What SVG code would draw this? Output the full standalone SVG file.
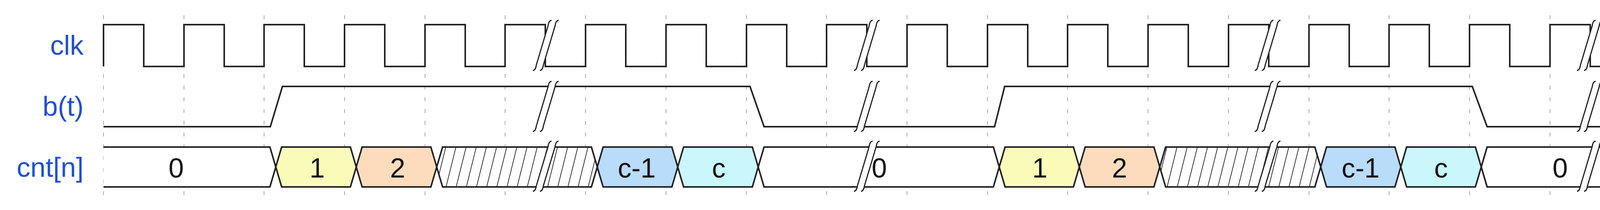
<svg xmlns="http://www.w3.org/2000/svg" width="4203" height="537" viewBox="0 0 4203 537">
<style>
.lbl{font-family:"Liberation Sans",Arial,sans-serif;font-size:70px;fill:#1f4fd8;text-anchor:end}
.val{font-family:"Liberation Sans",Arial,sans-serif;font-size:70px;fill:#111;text-anchor:middle}
.grid{stroke:#aaa;stroke-width:2;stroke-dasharray:10 20}
.wave{fill:none;stroke:#222;stroke-width:4;stroke-linejoin:miter}
.bus{stroke:#222;stroke-width:4}
.brk{fill:#fff;stroke:none}
.brkl{fill:none;stroke:#222;stroke-width:3}
</style>
<defs>
<pattern id="hatch" width="26" height="10" patternUnits="userSpaceOnUse" patternTransform="skewX(-14)">
<rect width="26" height="10" fill="#fff"/>
<line x1="13" y1="-1" x2="13" y2="11" stroke="#333" stroke-width="2"/>
</pattern>
<g id="brk">
<path class="brk" d="M -34 64 Q -27 64 -25 50 L 5 -50 Q 7 -64 14 -64 L 32 -64 Q 25 -64 23 -50 L -7 50 Q -9 64 -16 64 Z"/>
<path class="brkl" d="M -34 64 Q -27 64 -25 50 L 5 -50 Q 7 -64 14 -64"/>
<path class="brkl" d="M -16 64 Q -9 64 -7 50 L 23 -50 Q 25 -64 32 -64"/>
</g>
</defs>
<rect width="4203" height="537" fill="#fff"/>
<g id="grid">
<line class="grid" x1="265" y1="39" x2="265" y2="500"/><line class="grid" x1="471" y1="39" x2="471" y2="500"/><line class="grid" x1="676" y1="39" x2="676" y2="500"/><line class="grid" x1="882" y1="39" x2="882" y2="500"/><line class="grid" x1="1088" y1="39" x2="1088" y2="500"/><line class="grid" x1="1293" y1="39" x2="1293" y2="500"/><line class="grid" x1="1499" y1="39" x2="1499" y2="500"/><line class="grid" x1="1705" y1="39" x2="1705" y2="500"/><line class="grid" x1="1911" y1="39" x2="1911" y2="500"/><line class="grid" x1="2116" y1="39" x2="2116" y2="500"/><line class="grid" x1="2322" y1="39" x2="2322" y2="500"/><line class="grid" x1="2528" y1="39" x2="2528" y2="500"/><line class="grid" x1="2733" y1="39" x2="2733" y2="500"/><line class="grid" x1="2939" y1="39" x2="2939" y2="500"/><line class="grid" x1="3145" y1="39" x2="3145" y2="500"/><line class="grid" x1="3351" y1="39" x2="3351" y2="500"/><line class="grid" x1="3556" y1="39" x2="3556" y2="500"/><line class="grid" x1="3762" y1="39" x2="3762" y2="500"/><line class="grid" x1="3968" y1="39" x2="3968" y2="500"/><line class="grid" x1="4173" y1="39" x2="4173" y2="500"/>
</g>
<g id="labels">
<text class="lbl" x="214" y="140">clk</text>
<text class="lbl" x="214" y="296">b(t)</text>
<text class="lbl" x="214" y="452">cnt[n]</text>
</g>
<g id="clk">
<path class="wave" d="M265,170 L265,63 L368,63 L368,170 L471,170 L471,63 L574,63 L574,170 L676,170 L676,63 L779,63 L779,170 L882,170 L882,63 L985,63 L985,170 L1088,170 L1088,63 L1191,63 L1191,170 L1293,170 L1293,63 L1396,63 L1396,170 L1499,170 L1499,63 L1602,63 L1602,170 L1705,170 L1705,63 L1808,63 L1808,170 L1911,170 L1911,63 L2014,63 L2014,170 L2116,170 L2116,63 L2219,63 L2219,170 L2322,170 L2322,63 L2425,63 L2425,170 L2528,170 L2528,63 L2631,63 L2631,170 L2733,170 L2733,63 L2836,63 L2836,170 L2939,170 L2939,63 L3042,63 L3042,170 L3145,170 L3145,63 L3248,63 L3248,170 L3351,170 L3351,63 L3454,63 L3454,170 L3556,170 L3556,63 L3659,63 L3659,170 L3762,170 L3762,63 L3865,63 L3865,170 L3968,170 L3968,63 L4071,63 L4071,170 L4173,170"/>
</g>
<g id="bt">
<path class="wave" d="M265,324 L692,324 L723,221 L1920,221 L1956,324 L2546,324 L2572,221 L3769,221 L3807,324 L4173,324"/>
</g>
<g id="cnt">
<path class="bus" fill="#fff" d="M265,376 L691,376 L706,427 L691,478 L265,478"/>
<path class="bus" fill="#fbfbb9" d="M721,376 L897,376 L912,427 L897,478 L721,478 L706,427 Z"/>
<path class="bus" fill="#fcdcbc" d="M927,376 L1103,376 L1118,427 L1103,478 L927,478 L912,427 Z"/>
<path class="bus" fill="url(#hatch)" d="M1133,376 L1514,376 L1529,427 L1514,478 L1133,478 L1118,427 Z"/>
<path class="bus" fill="#b9dcfb" d="M1544,376 L1720,376 L1735,427 L1720,478 L1544,478 L1529,427 Z"/>
<path class="bus" fill="#c9f7fb" d="M1750,376 L1926,376 L1941,427 L1926,478 L1750,478 L1735,427 Z"/>
<path class="bus" fill="#fff" d="M1956,376 L2543,376 L2558,427 L2543,478 L1956,478 L1941,427 Z"/>
<path class="bus" fill="#fbfbb9" d="M2573,376 L2748,376 L2763,427 L2748,478 L2573,478 L2558,427 Z"/>
<path class="bus" fill="#fcdcbc" d="M2778,376 L2954,376 L2969,427 L2954,478 L2778,478 L2763,427 Z"/>
<path class="bus" fill="url(#hatch)" d="M2984,376 L3366,376 L3381,427 L3366,478 L2984,478 L2969,427 Z"/>
<path class="bus" fill="#b9dcfb" d="M3396,376 L3571,376 L3586,427 L3571,478 L3396,478 L3381,427 Z"/>
<path class="bus" fill="#c9f7fb" d="M3601,376 L3777,376 L3792,427 L3777,478 L3601,478 L3586,427 Z"/>
<path class="bus" fill="#fff" d="M4173,376 L3807,376 L3792,427 L3807,478 L4173,478"/>
<text class="val" x="451" y="454">0</text>
<text class="val" x="812" y="454">1</text>
<text class="val" x="1018" y="454">2</text>
<text class="val" x="1630" y="454">c-1</text>
<text class="val" x="1840" y="454">c</text>
<text class="val" x="2251" y="454">0</text>
<text class="val" x="2662" y="454">1</text>
<text class="val" x="2866" y="454">2</text>
<text class="val" x="3483" y="454">c-1</text>
<text class="val" x="3689" y="454">c</text>
<text class="val" x="3994" y="454">0</text>
</g>
<g id="breaks">
<use href="#brk" x="1398" y="116"/><use href="#brk" x="1398" y="272"/><use href="#brk" x="1398" y="425"/>
<use href="#brk" x="2220" y="116"/><use href="#brk" x="2220" y="272"/><use href="#brk" x="2220" y="425"/>
<use href="#brk" x="3246" y="116"/><use href="#brk" x="3246" y="272"/><use href="#brk" x="3246" y="425"/>
<use href="#brk" x="4071" y="116"/><use href="#brk" x="4071" y="272"/><use href="#brk" x="4071" y="425"/>
</g>
</svg>
